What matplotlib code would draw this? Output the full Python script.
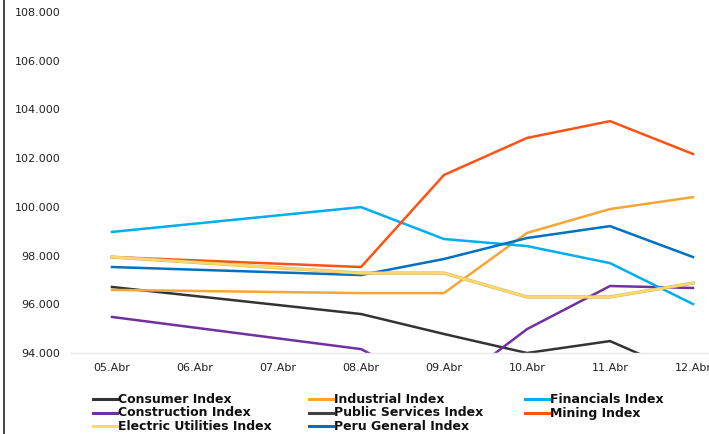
import matplotlib
matplotlib.use("Agg")
import matplotlib.pyplot as plt
import matplotlib.patheffects as pe
from matplotlib.lines import Line2D

categories = ["05.Abr", "06.Abr", "07.Abr", "08.Abr", "09.Abr", "10.Abr", "11.Abr", "12.Abr"]
data_dates = ["05.Abr", "08.Abr", "09.Abr", "10.Abr", "11.Abr", "12.Abr"]

consumer = [96.71, 95.60, 94.78, 94.00, 94.49, 93.00]
industrial = [96.59, 96.46, 96.46, 98.93, 99.91, 100.40]
financials = [98.97, 99.99, 98.68, 98.39, 97.69, 96.01]
construction = [95.48, 94.16, 92.40, 94.98, 96.75, 96.67]
public_services = [93.20, 92.60, 92.10, 91.80, 92.00, 91.90]
mining = [97.94, 97.53, 101.31, 102.83, 103.52, 102.17]
electric = [97.94, 97.28, 97.28, 96.30, 96.30, 96.87]
peru_general = [97.53, 97.20, 97.86, 98.72, 99.21, 97.94]

y_ticks = [94, 96, 98, 100, 102, 104, 106, 108]

# legend order (row-major as shown in the reference)
series = [
    ("Consumer Index", consumer, "#333333"),
    ("Industrial Index", industrial, "#F7A535"),
    ("Financials Index", financials, "#00AEEF"),
    ("Construction Index", construction, "#7030A0"),
    ("Public Services Index", public_services, "#404040"),
    ("Mining Index", mining, "#FF5215"),
    ("Electric Utilities Index", electric, "#FFD966"),
    ("Peru General Index", peru_general, "#0070C0"),
]

W, H = 709, 434
fig = plt.figure(figsize=(W / 100, H / 100), dpi=100)
ax = fig.add_axes([70.5 / W, 81 / H, 664 / W, 341 / H])

xpos = [categories.index(d) for d in data_dates]
draw_order = ["Public Services Index", "Consumer Index", "Construction Index", "Industrial Index",
              "Financials Index", "Peru General Index", "Mining Index", "Electric Utilities Index"]
lookup = {n: (v, c) for n, v, c in series}
for name in draw_order:
    vals, col = lookup[name]
    kw = {}
    if name == "Electric Utilities Index":
        kw["path_effects"] = [pe.Stroke(linewidth=2.4, foreground="#c9b27a"), pe.Normal()]
    ax.plot(xpos, vals, color=col, lw=1.8, solid_joinstyle="miter", clip_on=True, **kw)

ax.set_xlim(-0.5, 7.5)
ax.set_ylim(94, 108)
ax.set_yticks(y_ticks)
ax.set_yticklabels([f"{v}.000" for v in y_ticks])
ax.set_xticks(range(len(categories)))
ax.set_xticklabels(categories)
ax.tick_params(axis="both", length=0, labelsize=8, colors="#222222")
ax.tick_params(axis="y", pad=7.5)
ax.tick_params(axis="x", pad=7)
for s in ["top", "right", "left"]:
    ax.spines[s].set_visible(False)
ax.spines["bottom"].set_color("#e8e8e8")
ax.spines["bottom"].set_linewidth(1.0)

# manual legend with fixed column widths
col_x = [93, 309, 525]
row_y = [399, 412.5, 426]
for i, (name, vals, col) in enumerate(series):
    r, c = divmod(i, 3)
    x0 = col_x[c]
    yc = row_y[r]
    fig.add_artist(Line2D([x0 / W, (x0 + 24) / W], [1 - yc / H, 1 - yc / H],
                          color=col, lw=2.2, transform=fig.transFigure))
    fig.text((x0 + 25) / W, 1 - (yc + 0.5) / H, name, fontsize=9, fontweight="bold",
             color="#111111", ha="left", va="center")

fig.add_artist(Line2D([3.5 / W, 3.5 / W], [0, 1], color="#222222", lw=1.2,
                      transform=fig.transFigure))

fig.savefig("out.png", dpi=100)
